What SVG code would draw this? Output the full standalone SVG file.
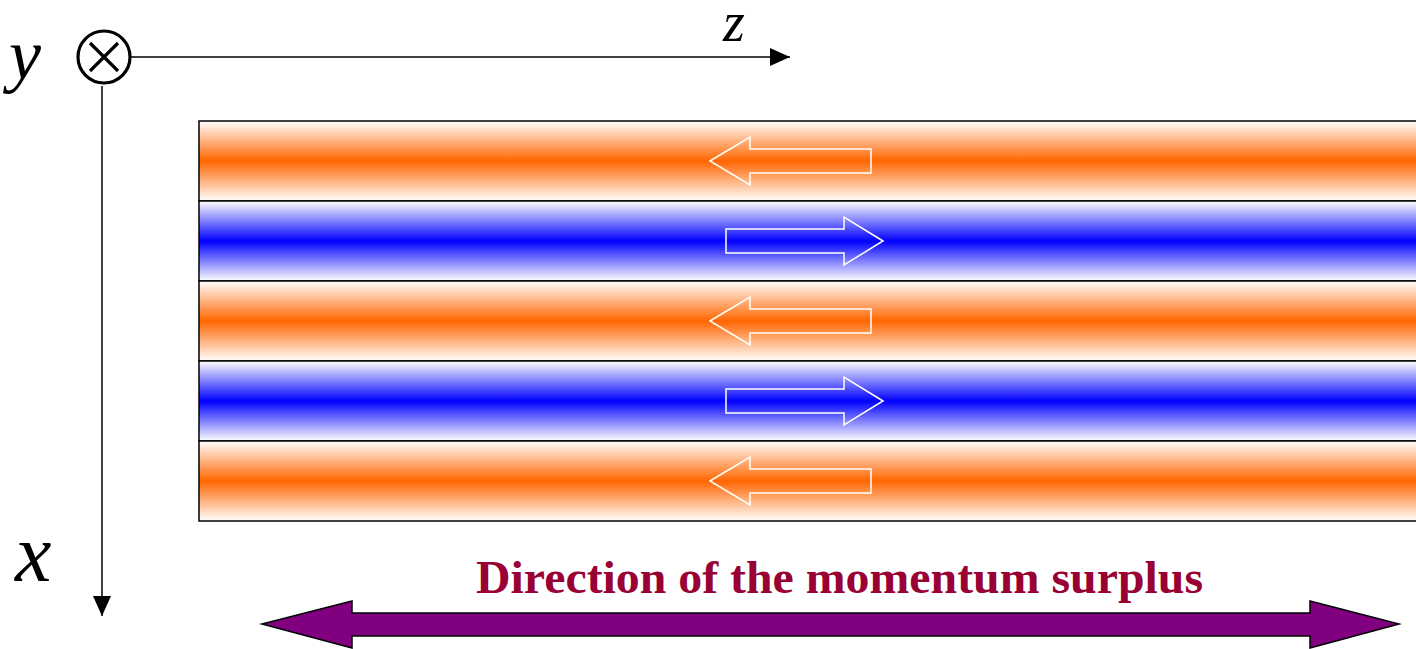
<svg xmlns="http://www.w3.org/2000/svg" width="1416" height="649" viewBox="0 0 1416 649">
<defs>
<linearGradient id="gOrange" x1="0" y1="0" x2="0" y2="1">
<stop offset="0" stop-color="#FFFFFF"/>
<stop offset="0.5" stop-color="#FF6600"/>
<stop offset="1" stop-color="#FFFFFF"/>
</linearGradient>
<linearGradient id="gBlue" x1="0" y1="0" x2="0" y2="1">
<stop offset="0" stop-color="#FFFFFF"/>
<stop offset="0.5" stop-color="#0000FF"/>
<stop offset="1" stop-color="#FFFFFF"/>
</linearGradient>
<marker id="ah" markerWidth="20" markerHeight="18" refX="20" refY="9" orient="auto" markerUnits="userSpaceOnUse">
<path d="M0,0 L20,9 L0,18 Z" fill="#000"/>
</marker>
</defs>
<style>
.band{stroke:#000;stroke-width:1.5}
.flow{fill:none;stroke:#FFFFFF;stroke-width:1.5}
.axis{stroke:#000;stroke-width:1.5;fill:none}
.lab{font-family:"Liberation Serif",serif;font-style:italic;fill:#000}
</style>
<g id="bands">
<rect id="band1" class="band" x="199" y="121" width="1230" height="80" fill="url(#gOrange)"/>
<rect id="band2" class="band" x="199" y="201" width="1230" height="80" fill="url(#gBlue)"/>
<rect id="band3" class="band" x="199" y="281" width="1230" height="80" fill="url(#gOrange)"/>
<rect id="band4" class="band" x="199" y="361" width="1230" height="80" fill="url(#gBlue)"/>
<rect id="band5" class="band" x="199" y="441" width="1230" height="80" fill="url(#gOrange)"/>
</g>
<g id="flows">
<path id="flow1" class="flow" d="M710,161 L750,137 L750,149 L871,149 L871,173 L750,173 L750,185 Z"/>
<path id="flow2" class="flow" d="M883,241 L844,217 L844,229 L726,229 L726,253 L844,253 L844,265 Z"/>
<path id="flow3" class="flow" d="M710,321 L750,297 L750,309 L871,309 L871,333 L750,333 L750,345 Z"/>
<path id="flow4" class="flow" d="M883,401 L844,377 L844,389 L726,389 L726,413 L844,413 L844,425 Z"/>
<path id="flow5" class="flow" d="M710,481 L750,457 L750,469 L871,469 L871,493 L750,493 L750,505 Z"/>
</g>
<g id="connectors">
<line class="axis" x1="131" y1="57" x2="790" y2="57" marker-end="url(#ah)"/>
<line class="axis" x1="102" y1="86" x2="102" y2="616" marker-end="url(#ah)"/>
</g>
<g id="yaxis-symbol">
<circle cx="104" cy="57" r="26" fill="#fff" stroke="#000" stroke-width="3.2"/>
<line x1="90" y1="43" x2="118" y2="71" stroke="#000" stroke-width="3.2"/>
<line x1="118" y1="43" x2="90" y2="71" stroke="#000" stroke-width="3.2"/>
</g>
<g id="labels">
<text class="lab" x="9" y="79" font-size="72">y</text>
<text class="lab" x="723" y="41" font-size="56">z</text>
<text class="lab" x="15" y="581" font-size="82">x</text>
</g>
<g id="momentum">
<path d="M262,624 L352,601 L352,613 L1310,613 L1310,601 L1399,624 L1310,648 L1310,636 L352,636 L352,648 Z" fill="#800080" stroke="#000" stroke-width="1.5" stroke-linejoin="miter"/>
<text x="476" y="593" font-family="'Liberation Serif',serif" font-weight="bold" font-size="46" fill="#990033" textLength="727" lengthAdjust="spacingAndGlyphs">Direction of the momentum surplus</text>
</g>
</svg>
